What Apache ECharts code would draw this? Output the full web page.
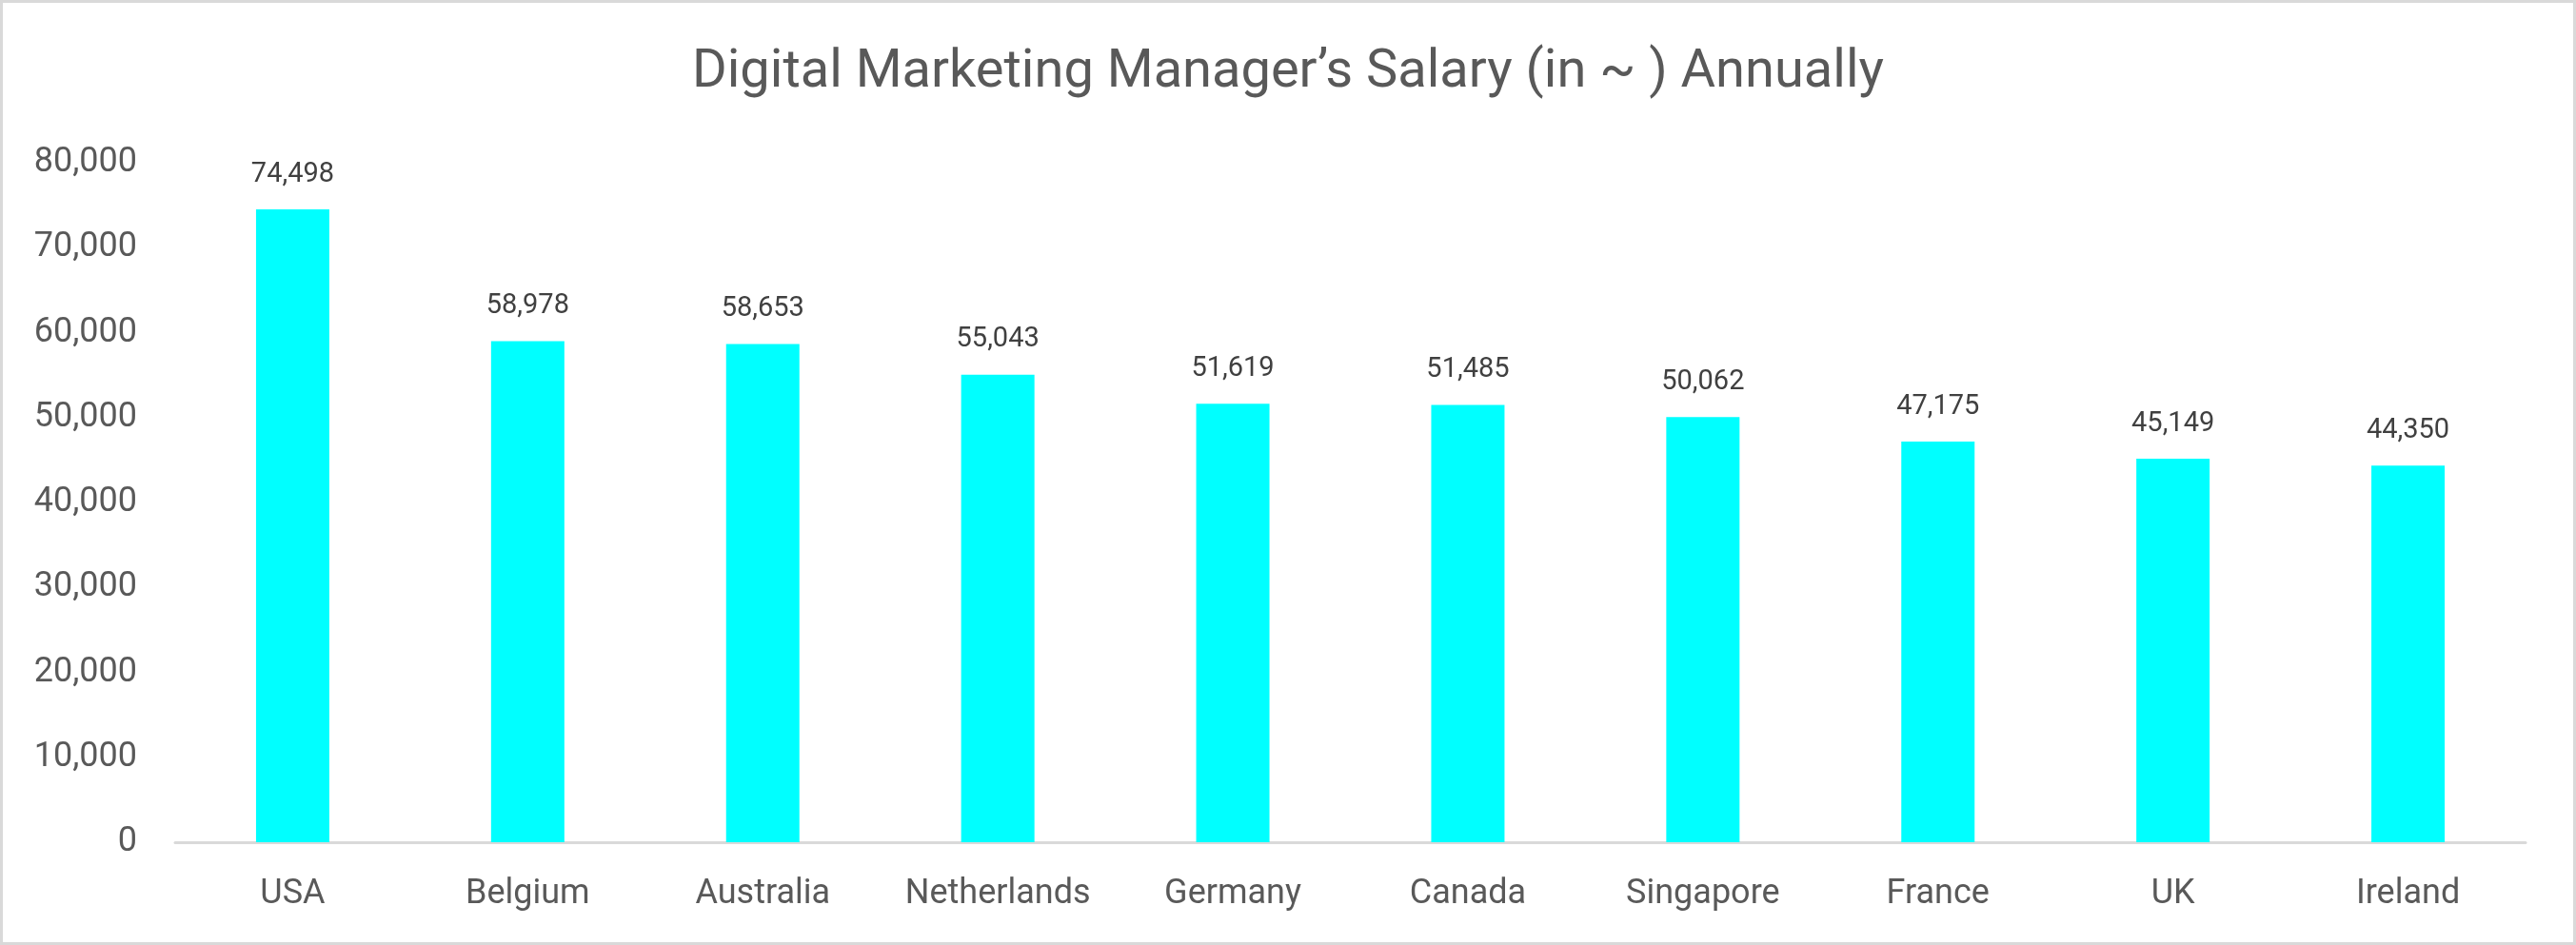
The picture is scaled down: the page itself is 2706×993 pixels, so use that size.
<!DOCTYPE html>
<html>
<head>
<meta charset="utf-8">
<script src="https://cdn.jsdelivr.net/npm/echarts@6/dist/echarts.min.js"></script>
<style>
  html, body { margin: 0; padding: 0; background: #ffffff; }
  #frame { width: 2706px; height: 993px; box-sizing: border-box; border: 3px solid #d9d9d9; position: relative; }
  #chart { position: absolute; left: -3px; top: -3px; width: 2706px; height: 993px; }
</style>
</head>
<body>
<div id="frame"><div id="chart"></div></div>
<script>
const titleText = 'Digital Marketing Manager\u2019s Salary (in ~ ) Annually';
const categories = ['USA', 'Belgium', 'Australia', 'Netherlands', 'Germany', 'Canada', 'Singapore', 'France', 'UK', 'Ireland'];
const salaries = [74498, 58978, 58653, 55043, 51619, 51485, 50062, 47175, 45149, 44350];
const yTicks = [0, 10000, 20000, 30000, 40000, 50000, 60000, 70000, 80000];

const FONT = 'Roboto';
const chart = echarts.init(document.getElementById('chart'), null, { renderer: 'canvas' });
const fmt = v => Number(v).toLocaleString('en-US');

chart.setOption({
  backgroundColor: 'transparent',
  animation: false,
  title: {
    text: titleText,
    left: 'center',
    top: 44,
    textStyle: { fontFamily: FONT, fontSize: 56, fontWeight: 'normal', color: '#595959' }
  },
  grid: { left: 184, right: 53, top: 171, bottom: 108, containLabel: false },
  xAxis: {
    type: 'category',
    data: categories,
    axisLine: { show: true, lineStyle: { color: '#d9d9d9', width: 3 } },
    axisTick: { show: false },
    axisLabel: { interval: 0, fontFamily: FONT, fontSize: 36, color: '#595959', margin: 37 }
  },
  yAxis: {
    type: 'value',
    min: yTicks[0],
    max: yTicks[yTicks.length - 1],
    interval: yTicks[1] - yTicks[0],
    axisLine: { show: false },
    axisTick: { show: false },
    splitLine: { show: false },
    axisLabel: { fontFamily: FONT, fontSize: 36, color: '#595959', margin: 40, formatter: fmt }
  },
  series: [{
    type: 'bar',
    data: salaries,
    barWidth: 77,
    itemStyle: { color: '#00ffff' },
    label: {
      show: true,
      position: 'top',
      distance: 22,
      fontFamily: FONT,
      fontSize: 29,
      color: '#404040',
      formatter: p => fmt(p.value)
    }
  }]
});
</script>
</body>
</html>
